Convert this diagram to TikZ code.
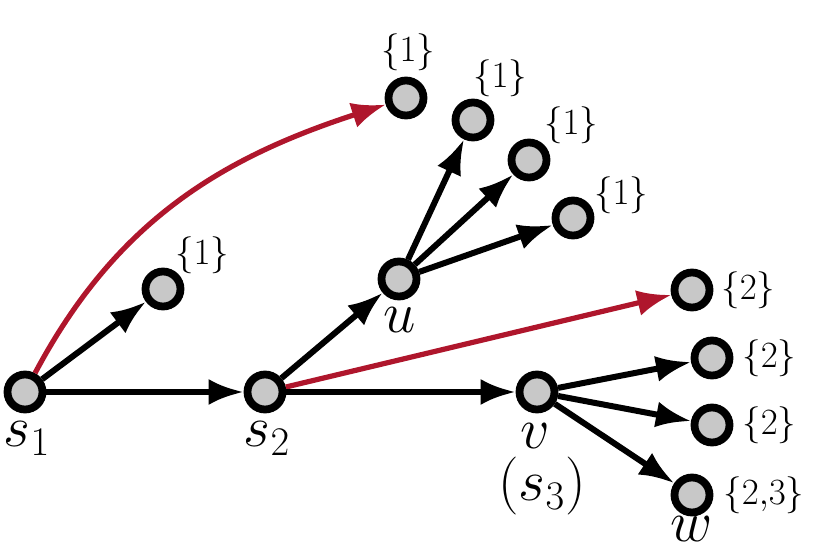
\RequirePackage{fix-cm}
\documentclass[tikz,border=0pt]{standalone}
\usetikzlibrary{arrows.meta}
\definecolor{nodegray}{RGB}{200,200,200}
\definecolor{darkred}{RGB}{175,22,44}
\begin{document}
\begin{tikzpicture}[x=0.5pt,y=-0.5pt,
  vtx/.style={circle,draw=black,line width=3.9pt,fill=nodegray,minimum size=17.5pt,inner sep=0pt},
  arr/.style={line width=3pt,-{Latex[length=17.5pt,width=13pt]}},
  redarr/.style={draw=darkred,line width=2.6pt,-{Latex[length=17pt,width=13pt]}},
  big/.style={font=\fontsize{29}{34}\selectfont,inner sep=0pt,anchor=base},
  setl/.style={font=\fontsize{18.5}{22}\selectfont,inner sep=0pt}]
\useasboundingbox (0,0) rectangle (830,550);
% nodes
\node[vtx] (s1) at (25,392) {};
\node[vtx] (a) at (163,289) {};
\node[vtx] (t) at (406,98) {};
\node[vtx] (s2) at (265,392) {};
\node[vtx] (u) at (399,279) {};
\node[vtx] (u1) at (473,120) {};
\node[vtx] (u2) at (529,160) {};
\node[vtx] (u3) at (573,218) {};
\node[vtx] (r2) at (692,290) {};
\node[vtx] (v) at (537,392) {};
\node[vtx] (v1) at (712,358) {};
\node[vtx] (v2) at (712,425) {};
\node[vtx] (w) at (692,495) {};
% labels
\node[big] (ls1) at (27,447) {$s_1$};
\node[big] (ls2) at (267,447) {$s_2$};
\node[big] (lu) at (400,333) {$u$};
\node[big] (lv) at (535,449) {$v$};
\node[big] (ls3) at (542,501) {$(s_3)$};
\node[big] (lw) at (692,541) {$w$};
\node[setl] (lt) at (408,52) {$\{1\}$};
\node[setl] (la) at (202,255) {$\{1\}$};
\node[setl] (lu1) at (500,78) {$\{1\}$};
\node[setl] (lu2) at (571,125) {$\{1\}$};
\node[setl] (lu3) at (621,195) {$\{1\}$};
\node[setl,anchor=west] (lr2) at (721,290) {$\{2\}$};
\node[setl,anchor=west] (lv1) at (742,358) {$\{2\}$};
\node[setl,anchor=west] (lv2) at (742,425) {$\{2\}$};
\node[setl,anchor=west] (lw2) at (723,495) {$\{2{,}3\}$};
% edges
\draw[redarr] (s1) to[out=62,in=198] (t);
\draw[arr] (s1) -- (a);
\draw[arr] (s1) -- (s2);
\draw[arr] (s2) -- (u);
\draw[redarr] (s2) -- (r2);
\draw[arr] (s2) -- (v);
\draw[arr] (u) -- (u1);
\draw[arr] (u) -- (u2);
\draw[arr] (u) -- (u3);
\draw[arr] (v) -- (v1);
\draw[arr] (v) -- (v2);
\draw[arr] (v) -- (w);
\end{tikzpicture}
\end{document}
